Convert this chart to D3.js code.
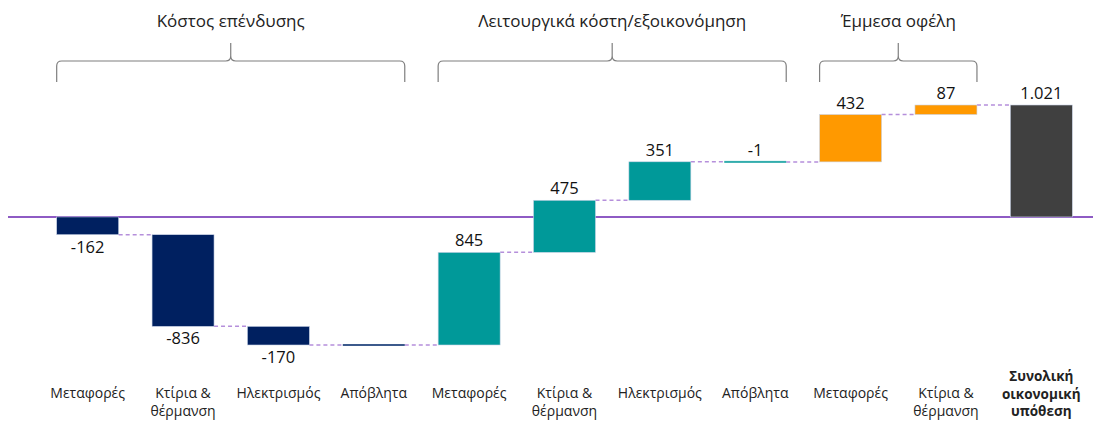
<!DOCTYPE html>
<html><head><meta charset="utf-8">
<script src="https://cdn.jsdelivr.net/npm/d3@7"></script>
<style>body{margin:0;background:#fff}svg{display:block}</style>
</head><body>
<svg id="c" width="1101" height="431"></svg>
<script>
const categories = [
  ["Μεταφορές"], ["Κτίρια &", "θέρμανση"], ["Ηλεκτρισμός"], ["Απόβλητα"],
  ["Μεταφορές"], ["Κτίρια &", "θέρμανση"], ["Ηλεκτρισμός"], ["Απόβλητα"],
  ["Μεταφορές"], ["Κτίρια &", "θέρμανση"], ["Συνολική", "οικονομική", "υπόθεση"]
];
const values = [-162, -836, -170, 0, 845, 475, 351, -1, 432, 87, 1021];
const valueLabels = ["-162", "-836", "-170", "", "845", "475", "351", "-1", "432", "87", "1.021"];
const kinds = ["inv","inv","inv","inv","op","op","op","op","ind","ind","total"];
const groupTitles = ["Κόστος επένδυσης", "Λειτουργικά κόστη/εξοικονόμηση", "Έμμεσα οφέλη"];
const groupFrom = [0, 4, 8];
const groupTo = [3, 7, 9];

const colors = {inv:"#002060", op:"#009999", ind:"#FF9900", total:"#404040"};
const thinColors = {inv:"#3C5A8C", op:"#33ADAD"};

const svg = d3.select("#c");
const font = "'Open Sans', sans-serif";

// waterfall geometry
let run = 0;
const bars = values.map((v, i) => {
  let start, end;
  if (kinds[i] === "total") { start = 0; end = v; }
  else { start = run; end = run + v; run = end; }
  return {i, v, start, end, kind: kinds[i], label: valueLabels[i]};
});
const lo = d3.min(bars, d => Math.min(d.start, d.end));
const hi = d3.max(bars, d => Math.max(d.start, d.end));

const x = d3.scaleBand().domain(d3.range(values.length)).range([40, 1089]).paddingInner(0.35).paddingOuter(0.175);
const y = d3.scaleLinear().domain([lo, hi]).range([345, 105]);

// zero line
svg.append("line").attr("x1", 8).attr("x2", 1093).attr("y1", y(0)).attr("y2", y(0))
  .attr("stroke", "#8E5BC4").attr("stroke-width", 2);

// connectors
bars.slice(0, -1).forEach((b, k) => {
  const level = b.end;
  svg.append("line")
    .attr("x1", x(k) + x.bandwidth()).attr("x2", x(k + 1))
    .attr("y1", y(level)).attr("y2", y(level))
    .attr("stroke", "#B58FDB").attr("stroke-width", 1.5).attr("stroke-dasharray", "4,3");
});

// bars
bars.forEach(b => {
  const top = y(Math.max(b.start, b.end)), bot = y(Math.min(b.start, b.end));
  const h = Math.max(bot - top, 2);
  const thin = (bot - top) < 2;
  svg.append("rect")
    .attr("x", x(b.i)).attr("width", x.bandwidth())
    .attr("y", thin ? y(b.end) - 1 : top).attr("height", h)
    .attr("fill", thin ? thinColors[b.kind] : colors[b.kind])
    .attr("stroke", thin ? "none" : "#C9D3E6").attr("stroke-width", 0.6);
  if (b.label) {
    const neg = b.v < 0 && b.kind !== "total" && !thin;
    svg.append("text")
      .attr("x", x(b.i) + x.bandwidth() / 2)
      .attr("y", neg ? bot + 18 : top - 6)
      .attr("text-anchor", "middle").attr("font-family", font).attr("font-size", 16.5)
      .attr("fill", "#111").text(b.label);
  }
});

// category labels
categories.forEach((lines, i) => {
  const isTotal = kinds[i] === "total";
  const t = svg.append("text").attr("text-anchor", "middle")
    .attr("font-family", font).attr("font-size", isTotal ? 13.5 : 14)
    .attr("font-weight", isTotal ? "bold" : "normal").attr("fill", "#222");
  const baseY = isTotal ? 381 : 398;
  lines.forEach((ln, j) => {
    t.append("tspan").attr("x", x(i) + x.bandwidth() / 2).attr("y", baseY + j * 17.5).text(ln);
  });
});

// group braces and titles
groupTitles.forEach((title, g) => {
  const x0 = x(groupFrom[g]), x1 = x(groupTo[g]) + x.bandwidth();
  const xm = (x0 + x1) / 2;
  const yb = 82, yh = 61, yt = 43, r = 5;
  const p = d3.path();
  p.moveTo(x0, yb);
  p.lineTo(x0, yh + r);
  p.quadraticCurveTo(x0, yh, x0 + r, yh);
  p.lineTo(xm - r, yh);
  p.quadraticCurveTo(xm, yh, xm, yh - r);
  p.lineTo(xm, yt);
  p.moveTo(xm, yh - r);
  p.quadraticCurveTo(xm, yh, xm + r, yh);
  p.lineTo(x1 - r, yh);
  p.quadraticCurveTo(x1, yh, x1, yh + r);
  p.lineTo(x1, yb);
  svg.append("path").attr("d", p.toString()).attr("fill", "none")
    .attr("stroke", "#7F7F7F").attr("stroke-width", 1.2);
  svg.append("text").attr("x", xm).attr("y", 27).attr("text-anchor", "middle")
    .attr("font-family", font).attr("font-size", 17).attr("fill", "#222").text(title);
});
</script>
</body></html>
